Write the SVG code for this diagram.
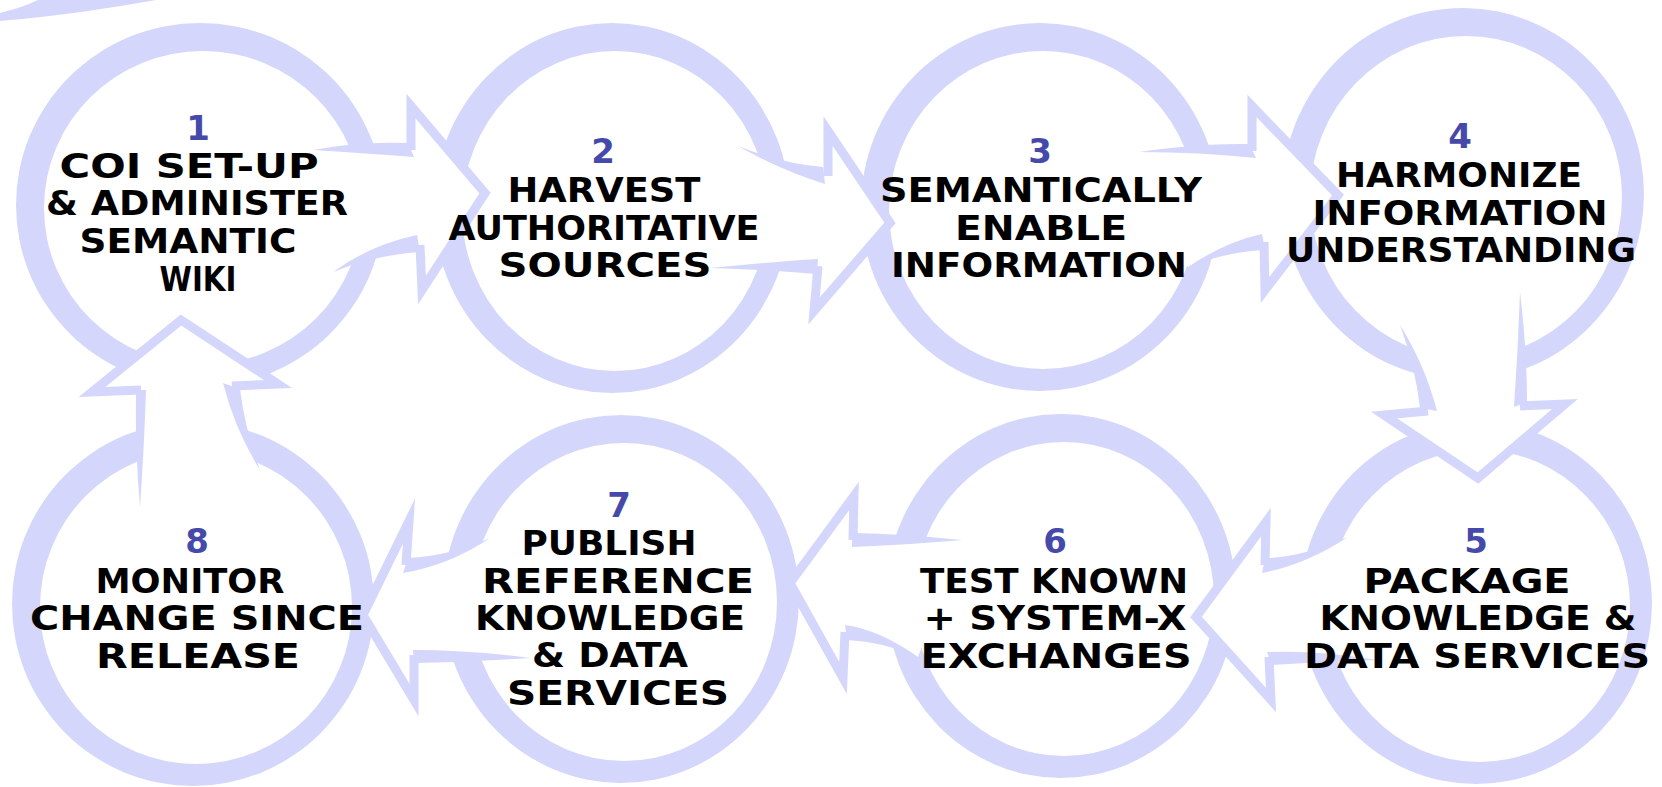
<svg xmlns="http://www.w3.org/2000/svg" width="1662" height="787" viewBox="0 0 1662 787">
<style>
.ring{fill:#d4d6fc;fill-rule:evenodd;stroke:none}
.af{fill:#ffffff;stroke:none}
.ah{fill:none;stroke:#d4d6fc;stroke-width:9;stroke-linejoin:miter;stroke-miterlimit:10}
.aw{fill:#d4d6fc;stroke:none}
.t{font-family:"DejaVu Sans","Liberation Sans",sans-serif;font-weight:bold;font-size:34px;fill:#000;text-anchor:middle}
.n{font-family:"DejaVu Sans","Liberation Sans",sans-serif;font-weight:bold;font-size:34px;fill:#4549a9;text-anchor:middle}
</style>
<rect width="1662" height="787" fill="#ffffff"/>
<path class="ring" d="M0,21 C60,16 110,8 156,0 L38,0 C25,6 12,10 0,13 Z"/>
<g id="rings">
<path id="ring1" class="ring" d="M16,205 a184,182 0 1,0 368,0 a184,182 0 1,0 -368,0 Z M44,208 a159,157 0 1,0 318,0 a159,157 0 1,0 -318,0 Z"/>
<path id="ring2" class="ring" d="M434,208 a178,185 0 1,0 356,0 a178,185 0 1,0 -356,0 Z M462,211 a153,160 0 1,0 306,0 a153,160 0 1,0 -306,0 Z"/>
<path id="ring3" class="ring" d="M861,207 a179,184 0 1,0 358,0 a179,184 0 1,0 -358,0 Z M889,210 a154,159 0 1,0 308,0 a154,159 0 1,0 -308,0 Z"/>
<path id="ring4" class="ring" d="M1282,194 a181,186 0 1,0 362,0 a181,186 0 1,0 -362,0 Z M1310,197 a156,161 0 1,0 312,0 a156,161 0 1,0 -312,0 Z"/>
<path id="ring5" class="ring" d="M1300,603 a176,181 0 1,0 352,0 a176,181 0 1,0 -352,0 Z M1328,606 a151,156 0 1,0 302,0 a151,156 0 1,0 -302,0 Z"/>
<path id="ring6" class="ring" d="M886,596 a175,182 0 1,0 350,0 a175,182 0 1,0 -350,0 Z M914,599 a150,157 0 1,0 300,0 a150,157 0 1,0 -300,0 Z"/>
<path id="ring7" class="ring" d="M443,599 a178,184 0 1,0 356,0 a178,184 0 1,0 -356,0 Z M471,602 a153,159 0 1,0 306,0 a153,159 0 1,0 -306,0 Z"/>
<path id="ring8" class="ring" d="M12,604 a181,182 0 1,0 362,0 a181,182 0 1,0 -362,0 Z M40,607 a156,157 0 1,0 312,0 a156,157 0 1,0 -312,0 Z"/>
</g>
<g id="connectors">
<g id="a1-2">
<path class="af" d="M313,150 Q360,147 411,150 L411,106 L485,193 L422,290 L419,244 Q372,250 333,272 Z"/>
<path class="aw" d="M313,150 Q360,141 408,143 L414,157 Q360,153 313,150 Z"/>
<path class="aw" d="M333,272 Q370,245 417,235 L420,252 Q375,255 333,272 Z"/>
<path class="ah" d="M411,150 L411,106 L485,193 L422,290 L420,245"/>
</g>
<g id="a2-3">
<path class="af" d="M738,146 Q780,166 828,176 L828,131 L890,223 L814,311 L818,266 Q770,266 710,268 Z"/>
<path class="aw" d="M738,146 Q780,163 823,167 L825,184 Q780,170 738,146 Z"/>
<path class="aw" d="M710,268 Q770,262 818,259 L817,274 Q770,270 710,268 Z"/>
<path class="ah" d="M828,176 L828,131 L890,223 L814,311 L818,266"/>
</g>
<g id="a3-4">
<path class="af" d="M1139,152 Q1200,148 1252,151 L1252,106 L1338,195 L1265,290 L1264,242 Q1225,247 1188,267 Z"/>
<path class="aw" d="M1139,152 Q1200,143 1249,144 L1256,158 Q1200,152 1139,152 Z"/>
<path class="aw" d="M1188,267 Q1225,242 1262,234 L1265,250 Q1225,252 1188,267 Z"/>
<path class="ah" d="M1252,151 L1252,106 L1338,195 L1265,290 L1264,242"/>
</g>
<g id="a4-5">
<path class="af" d="M1400,325 Q1420,365 1428,410 L1384,415 L1478,478 L1565,404 L1520,406 Q1522,350 1520,292 Z"/>
<path class="aw" d="M1400,325 Q1415,365 1420,408 L1437,411 Q1425,365 1400,325 Z"/>
<path class="aw" d="M1520,292 Q1527,350 1527,402 L1514,407 Q1518,350 1520,292 Z"/>
<path class="ah" d="M1428,411 L1384,415 L1478,478 L1565,404 L1520,406"/>
</g>
<g id="a5-6">
<path class="af" d="M1348,537 Q1300,563 1265,565 L1266,522 L1196,617 L1271,700 L1269,657 Q1320,657 1377,660 Z"/>
<path class="aw" d="M1348,537 Q1300,558 1265,558 L1262,573 Q1305,565 1348,537 Z"/>
<path class="aw" d="M1377,660 Q1320,650 1267,652 L1272,665 Q1320,662 1377,660 Z"/>
<path class="ah" d="M1265,565 L1266,522 L1196,617 L1271,700 L1269,657"/>
</g>
<g id="a6-7">
<path class="af" d="M962,540 Q905,538 853,540 L854,496 L790,583 L843,678 L845,632 Q885,636 918,657 Z"/>
<path class="aw" d="M962,540 Q905,534 852,533 L852,547 Q905,545 962,540 Z"/>
<path class="aw" d="M918,657 Q880,630 845,625 L847,640 Q885,642 918,657 Z"/>
<path class="ah" d="M853,540 L854,496 L790,583 L843,678 L845,632"/>
</g>
<g id="a7-8">
<path class="af" d="M490,538 Q450,562 406,565 L409,521 L363,615 L414,700 L414,655 Q470,655 530,658 Z"/>
<path class="aw" d="M490,538 Q450,556 408,558 L403,573 Q450,565 490,538 Z"/>
<path class="aw" d="M530,658 Q470,650 413,650 L414,663 Q470,662 530,658 Z"/>
<path class="ah" d="M406,565 L409,521 L363,615 L414,700 L414,655"/>
</g>
<g id="a8-1">
<path class="af" d="M140,507 Q138,450 141,390 L92,392 L181,320 L278,384 L232,386 Q240,430 260,470 Z"/>
<path class="aw" d="M140,507 Q135,450 136,390 L146,390 Q144,450 140,507 Z"/>
<path class="aw" d="M260,470 Q235,430 223,383 L240,389 Q245,430 260,470 Z"/>
<path class="ah" d="M141,390 L92,392 L181,320 L278,384 L232,386"/>
</g>
</g>
<g id="node1">
<text class="n" x="198" y="140">1</text>
<text class="t" x="189" y="178" textLength="259" lengthAdjust="spacingAndGlyphs">COI SET-UP</text>
<text class="t" x="197" y="215" textLength="302" lengthAdjust="spacingAndGlyphs">&amp; ADMINISTER</text>
<text class="t" x="188" y="253" textLength="217" lengthAdjust="spacingAndGlyphs">SEMANTIC</text>
<text class="t" x="198" y="291" textLength="77" lengthAdjust="spacingAndGlyphs">WIKI</text>
</g>
<g id="node2">
<text class="n" x="603" y="163">2</text>
<text class="t" x="604" y="202" textLength="193" lengthAdjust="spacingAndGlyphs">HARVEST</text>
<text class="t" x="604" y="240" textLength="311" lengthAdjust="spacingAndGlyphs">AUTHORITATIVE</text>
<text class="t" x="605" y="277" textLength="213" lengthAdjust="spacingAndGlyphs">SOURCES</text>
</g>
<g id="node3">
<text class="n" x="1040" y="163">3</text>
<text class="t" x="1041" y="202" textLength="322" lengthAdjust="spacingAndGlyphs">SEMANTICALLY</text>
<text class="t" x="1041" y="240" textLength="172" lengthAdjust="spacingAndGlyphs">ENABLE</text>
<text class="t" x="1039" y="277" textLength="296" lengthAdjust="spacingAndGlyphs">INFORMATION</text>
</g>
<g id="node4">
<text class="n" x="1460" y="148">4</text>
<text class="t" x="1459" y="187" textLength="246" lengthAdjust="spacingAndGlyphs">HARMONIZE</text>
<text class="t" x="1460" y="225" textLength="295" lengthAdjust="spacingAndGlyphs">INFORMATION</text>
<text class="t" x="1461" y="262" textLength="350" lengthAdjust="spacingAndGlyphs">UNDERSTANDING</text>
</g>
<g id="node5">
<text class="n" x="1476" y="553">5</text>
<text class="t" x="1467" y="593" textLength="207" lengthAdjust="spacingAndGlyphs">PACKAGE</text>
<text class="t" x="1478" y="630" textLength="317" lengthAdjust="spacingAndGlyphs">KNOWLEDGE &amp;</text>
<text class="t" x="1477" y="668" textLength="346" lengthAdjust="spacingAndGlyphs">DATA SERVICES</text>
</g>
<g id="node6">
<text class="n" x="1055" y="553">6</text>
<text class="t" x="1054" y="593" textLength="268" lengthAdjust="spacingAndGlyphs">TEST KNOWN</text>
<text class="t" x="1055" y="630" textLength="263" lengthAdjust="spacingAndGlyphs">+ SYSTEM-X</text>
<text class="t" x="1056" y="668" textLength="271" lengthAdjust="spacingAndGlyphs">EXCHANGES</text>
</g>
<g id="node7">
<text class="n" x="619" y="517">7</text>
<text class="t" x="609" y="555" textLength="175" lengthAdjust="spacingAndGlyphs">PUBLISH</text>
<text class="t" x="618" y="593" textLength="272" lengthAdjust="spacingAndGlyphs">REFERENCE</text>
<text class="t" x="610" y="630" textLength="270" lengthAdjust="spacingAndGlyphs">KNOWLEDGE</text>
<text class="t" x="610" y="667" textLength="156" lengthAdjust="spacingAndGlyphs">&amp; DATA</text>
<text class="t" x="618" y="705" textLength="222" lengthAdjust="spacingAndGlyphs">SERVICES</text>
</g>
<g id="node8">
<text class="n" x="197" y="553">8</text>
<text class="t" x="190" y="593" textLength="189" lengthAdjust="spacingAndGlyphs">MONITOR</text>
<text class="t" x="197" y="630" textLength="334" lengthAdjust="spacingAndGlyphs">CHANGE SINCE</text>
<text class="t" x="198" y="668" textLength="204" lengthAdjust="spacingAndGlyphs">RELEASE</text>
</g>
</svg>
